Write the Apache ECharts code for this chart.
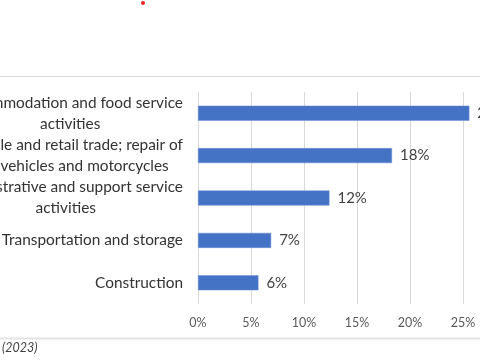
<!DOCTYPE html>
<html><head><meta charset="utf-8">
<script src="https://cdn.jsdelivr.net/npm/echarts@6/dist/echarts.min.js"></script>
<style>html,body{margin:0;padding:0;background:#fff;}#c{width:480px;height:360px;}</style>
</head><body><div id="c"></div>
<script>
var categories = [
  "Accommodation and food service\nactivities",
  "Wholesale and retail trade; repair of\nmotor vehicles and motorcycles",
  "Administrative and support service\nactivities",
  "Transportation and storage",
  "Construction"
];
var shares = [25.6, 18.3, 12.4, 6.9, 5.7];
var xTicks = [0, 5, 10, 15, 20, 25, 30];
var footnote = "(2023)";

var chart = echarts.init(document.getElementById('c'));
var FONT = 'Lato, "Open Sans", sans-serif';
chart.setOption({
  animation: false,
  backgroundColor: '#fff',
  grid: { left: 198, right: -36, top: 92, bottom: 56, containLabel: false, outerBoundsMode: 'none' },
  xAxis: {
    type: 'value', min: xTicks[0], max: xTicks[xTicks.length - 1], interval: 5,
    axisLine: { show: false }, axisTick: { show: false },
    splitLine: { lineStyle: { color: '#d9d9d9', width: 1 } },
    axisLabel: { formatter: '{value}%', color: '#595959', fontFamily: FONT, fontSize: 12.5, margin: 12 }
  },
  yAxis: {
    type: 'category', inverse: true, data: categories,
    axisLine: { show: false }, axisTick: { show: false },
    axisLabel: {
      color: '#404040', fontFamily: FONT, fontSize: 15.4, margin: 15, lineHeight: 21,
      formatter: function (v) {
        return v.split('\n').map(function (s) { return '{c|' + s + '}'; }).join('\n');
      },
      rich: { c: { align: 'center', color: '#333333', fontFamily: FONT, fontSize: 15.4, lineHeight: 21 } }
    }
  },
  series: [{
    type: 'bar', data: shares, barWidth: 15,
    itemStyle: { color: '#4472C4', borderColor: '#6a8fd4', borderWidth: 0.5 },
    label: {
      show: true, position: 'right', distance: 8, color: '#404040', fontFamily: FONT, fontSize: 15,
      formatter: function (p) { return Math.round(p.value) + '%'; }
    }
  }],
  graphic: [
    { type: 'line', shape: { x1: 0, y1: 76.5, x2: 480, y2: 76.5 }, style: { stroke: '#d9d9d9', lineWidth: 1 } },
    { type: 'line', shape: { x1: 0, y1: 338.5, x2: 480, y2: 338.5 }, style: { stroke: '#e3e3e3', lineWidth: 2 } },
    { type: 'circle', shape: { cx: 143, cy: 3, r: 2 }, style: { fill: '#e8262b' } },
    { type: 'text', left: 2, top: 341, style: { text: footnote, font: 'italic 12.5px ' + FONT, fill: '#404040' } }
  ]
});
</script></body></html>
